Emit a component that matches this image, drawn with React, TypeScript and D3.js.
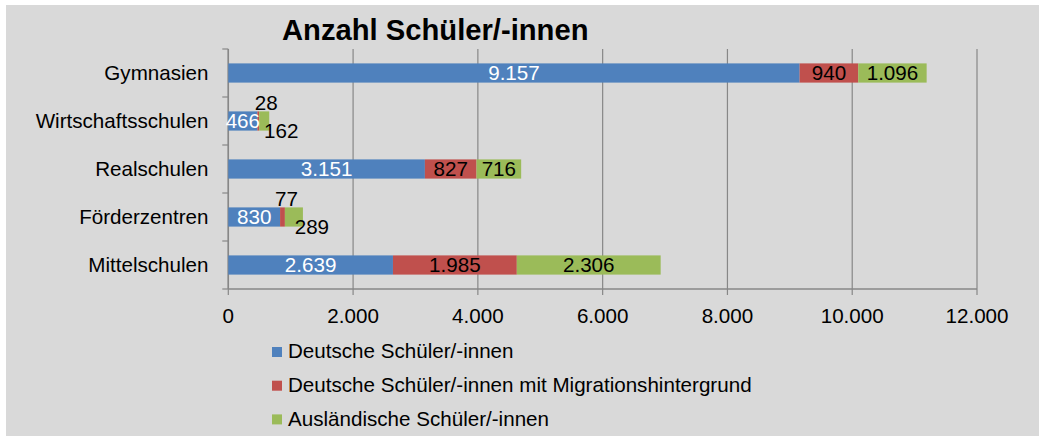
import React from "react";
import * as d3 from "d3";

const categories = ["Gymnasien", "Wirtschaftsschulen", "Realschulen", "Förderzentren", "Mittelschulen"];
const seriesNames = [
  "Deutsche Schüler/-innen",
  "Deutsche Schüler/-innen mit Migrationshintergrund",
  "Ausländische Schüler/-innen",
];
const deutsche = [9157, 466, 3151, 830, 2639];
const migration = [940, 28, 827, 77, 1985];
const auslaendisch = [1096, 162, 716, 289, 2306];
const xTicks = [0, 2000, 4000, 6000, 8000, 10000, 12000];
const title = "Anzahl Schüler/-innen";

const colors = ["#4f81bd", "#c0504d", "#9bbb59"];
const labelColors = ["#ffffff", "#000000", "#000000"];
// labels drawn outside small segments: [category, series index, position, dx]
const outsideLabels: [string, number, "above" | "below", number][] = [
  ["Wirtschaftsschulen", 1, "above", 8],
  ["Wirtschaftsschulen", 2, "below", 17],
  ["Förderzentren", 1, "above", 4],
  ["Förderzentren", 2, "below", 18],
];

const FONT = "'Liberation Sans', Arial, Helvetica, sans-serif";
const FS = 20.6;
const W = 1039;
const H = 436;

export default function App() {
  const rows = categories.map((c, i) => ({
    cat: c,
    s0: deutsche[i],
    s1: migration[i],
    s2: auslaendisch[i],
  }));
  const keys = ["s0", "s1", "s2"];
  const stacked = d3.stack<any>().keys(keys)(rows);

  const x = d3.scaleLinear().domain([0, 12000]).range([228.3, 977]);
  const y = d3
    .scaleBand<string>()
    .domain(categories)
    .range([49, 289])
    .paddingInner(0.6)
    .paddingOuter(0.3);

  const locale = d3.formatLocale({ decimal: ",", thousands: ".", grouping: [3], currency: ["", "€"] });
  const fmt = locale.format(",d");

  const step = y.step();
  const plotTop = 49;
  const plotBottom = 289;
  const x0 = x(0);
  const gridColor = "#878787";
  const mid = FS * 0.355;

  return (
    <svg
      width={W}
      height={H}
      style={{ position: "absolute", left: 0, top: 0 }}
      fontFamily={FONT}
    >
      <rect x={6} y={5} width={W - 6} height={H - 5} fill="#d9d9d9" />
      <text x={282} y={39.5} fontSize={29.2} fontWeight="bold" fill="#000">
        {title}
      </text>

      {/* gridlines */}
      {xTicks.map((t) => (
        <line
          key={"g" + t}
          x1={x(t)}
          x2={x(t)}
          y1={plotTop}
          y2={plotBottom + 6}
          stroke={gridColor}
          strokeWidth={1.2}
        />
      ))}
      {/* category axis */}
      <line x1={x0} x2={x0} y1={plotTop} y2={plotBottom} stroke={gridColor} strokeWidth={1.5} />
      {d3.range(categories.length + 1).map((i) => (
        <line
          key={"ct" + i}
          x1={x0 - 6}
          x2={x0}
          y1={plotTop + i * step}
          y2={plotTop + i * step}
          stroke={gridColor}
          strokeWidth={1.2}
        />
      ))}
      {/* value axis */}
      <line x1={x0} x2={x(12000)} y1={plotBottom} y2={plotBottom} stroke={gridColor} strokeWidth={1.5} />
      {xTicks.map((t) => (
        <text key={"xt" + t} x={x(t)} y={322.5} fontSize={FS} textAnchor="middle" fill="#000">
          {fmt(t)}
        </text>
      ))}
      {/* category labels */}
      {categories.map((c) => (
        <text
          key={"cl" + c}
          x={208.5}
          y={(y(c) as number) + y.bandwidth() / 2 + mid}
          fontSize={FS}
          textAnchor="end"
          fill="#000"
        >
          {c}
        </text>
      ))}

      {/* bars */}
      {stacked.map((layer, si) => (
        <g key={"layer" + si}>
          {layer.map((d: any) => (
            <rect
              key={d.data.cat}
              x={x(d[0])}
              y={y(d.data.cat)}
              width={x(d[1]) - x(d[0])}
              height={y.bandwidth()}
              fill={colors[si]}
            />
          ))}
        </g>
      ))}

      {/* data labels */}
      {stacked.map((layer, si) => (
        <g key={"lab" + si}>
          {layer.map((d: any) => {
            const cat = d.data.cat;
            const v = d[1] - d[0];
            const cx = (x(d[0]) + x(d[1])) / 2;
            const top = y(cat) as number;
            const bot = top + y.bandwidth();
            const out = outsideLabels.find((o) => o[0] === cat && o[1] === si);
            if (out) {
              const ty = out[2] === "above" ? top - 1.5 : bot + 7.5;
              return (
                <text key={cat} x={cx + out[3]} y={ty} fontSize={FS} textAnchor="middle" fill="#000">
                  {fmt(v)}
                </text>
              );
            }
            return (
              <text
                key={cat}
                x={cx}
                y={top + y.bandwidth() / 2 + mid}
                fontSize={FS}
                textAnchor="middle"
                fill={labelColors[si]}
              >
                {fmt(v)}
              </text>
            );
          })}
        </g>
      ))}

      {/* legend */}
      {seriesNames.map((s, i) => (
        <g key={"lg" + i} transform={`translate(272, ${347 + i * 33.7})`}>
          <rect x={0} y={0} width={10} height={10} fill={colors[i]} />
          <text x={16} y={11.3} fontSize={FS} fill="#000">
            {s}
          </text>
        </g>
      ))}
    </svg>
  );
}
